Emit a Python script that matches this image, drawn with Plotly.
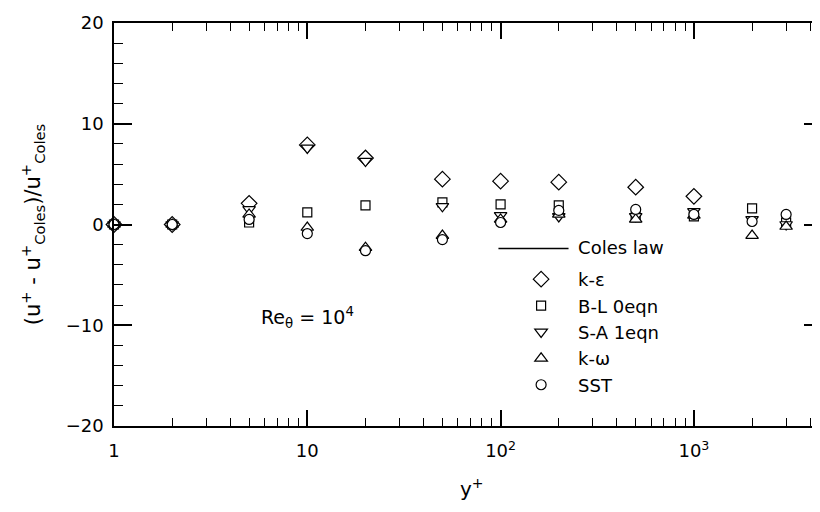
import plotly.graph_objects as go
import math

# ---- data ----
yplus = [1, 2, 5, 10, 20, 50, 100, 200, 500, 1000, 2000, 3000]
k_eps = [0, 0, 2.1, 7.9, 6.6, 4.5, 4.3, 4.2, 3.7, 2.8, None, None]
bl_0eqn = [0, 0, 0.2, 1.2, 1.9, 2.2, 2.0, 1.9, 0.7, 0.8, 1.6, 0.2]
sa_1eqn = [0, 0, 1.5, 7.6, 6.3, 1.8, 0.9, 0.8, 0.8, 1.3, 0.5, 0.0]
k_omega = [0, 0, 1.0, -0.3, -2.3, -1.1, 0.5, 1.0, 0.5, 0.9, -1.1, -0.2]
sst = [0, 0, 0.5, -0.9, -2.6, -1.5, 0.2, 1.4, 1.5, 1.0, 0.3, 1.0]

x_tickvals = [1, 10, 100, 1000]
x_ticktext = ["1", "10", "10<sup>2</sup>", "10<sup>3</sup>"]
x_minor = [m * d for d in (1, 10, 100, 1000) for m in range(2, 10) if m * d < 4600]
y_tickvals = [-20, -10, 0, 10, 20]

FONT = "DejaVu Sans, Liberation Sans, Arial, sans-serif"

fig = go.Figure()

# legend-only entry for the Coles law line (visible stroke drawn as a layout shape)
fig.add_trace(go.Scatter(x=[None], y=[None], mode="lines", name="Coles law",
                         legendgroup="a",
                         line=dict(color="rgba(0,0,0,0)", width=1.5)))

series = [
    ("k-ε", k_eps, "diamond", 12),
    ("B-L 0eqn", bl_0eqn, "square", 9),
    ("S-A 1eqn", sa_1eqn, "triangle-down", 11),
    ("k-ω", k_omega, "triangle-up", 11),
    ("SST", sst, "circle", 10),
]
for name, vals, sym, size in series:
    fig.add_trace(go.Scatter(
        x=yplus, y=vals, mode="markers", name=name, cliponaxis=False,
        legendgroup="b",
        marker=dict(symbol=sym, size=size, color="white",
                    line=dict(color="black", width=1.2)),
    ))

fig.add_shape(type="line", xref="paper", yref="paper",
              x0=0.543, x1=0.642, y0=0.4405, y1=0.4405,
              line=dict(color="black", width=1.5))

fig.add_annotation(x=1, y=-9.2, xref="x", yref="y",
                   text="Re<sub>θ</sub> = 10<sup>4</sup>", showarrow=False,
                   font=dict(size=19, color="black", family=FONT))
fig.add_annotation(x=0.505, y=-0.19, xref="paper", yref="paper",
                   text="y<sup>+</sup>", showarrow=False,
                   font=dict(size=20, color="black", family=FONT))

fig.update_layout(
    width=820, height=512,
    margin=dict(l=106, r=4, t=14, b=94),
    paper_bgcolor="white", plot_bgcolor="white",
    font=dict(family=FONT, size=18, color="black"),
    showlegend=True,
    legend=dict(x=0.551, y=0.49, xanchor="left", yanchor="top",
                bgcolor="rgba(0,0,0,0)", font=dict(size=18, family=FONT),
                itemwidth=64, tracegroupgap=6),
)

fig.update_xaxes(
    type="log", range=[0, math.log10(4600)],
    tickvals=x_tickvals, ticktext=x_ticktext,
    ticks="inside", ticklen=16, tickwidth=1.5, tickcolor="black",
    minor=dict(tickvals=x_minor, ticks="inside", ticklen=8, tickwidth=1, tickcolor="black"),
    showline=True, linecolor="black", linewidth=1.5, mirror="ticks",
    showgrid=False, zeroline=False, ticklabelstandoff=8,
    tickfont=dict(size=18, family=FONT),
)
fig.update_yaxes(
    range=[-20, 20], tickvals=y_tickvals,
    ticks="inside", ticklen=18, tickwidth=1.5, tickcolor="black",
    minor=dict(dtick=2, ticks="inside", ticklen=9, tickwidth=1, tickcolor="black"),
    showline=True, linecolor="black", linewidth=1.5, mirror="ticks",
    showgrid=False, zeroline=False, ticklabelstandoff=5,
    tickfont=dict(size=18, family=FONT),
    title=dict(text="(u<sup>+</sup> - u<sup>+</sup><sub>Coles</sub>)/u<sup>+</sup><sub>Coles</sub>",
               font=dict(size=21, family=FONT), standoff=19),
)

fig.write_html("out.html")
